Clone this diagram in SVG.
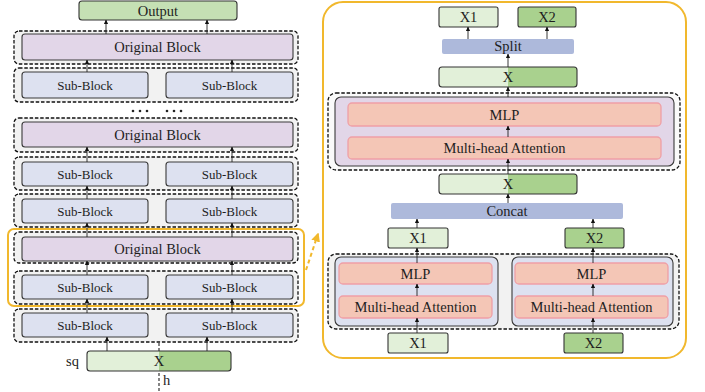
<svg xmlns="http://www.w3.org/2000/svg" width="705" height="392" viewBox="0 0 705 392">
  <defs>
    <linearGradient id="xsplit" x1="0" y1="0" x2="1" y2="0">
      <stop offset="0.5" stop-color="#e2f0d9"/>
      <stop offset="0.5" stop-color="#a9d18e"/>
    </linearGradient>
    <marker id="arr" viewBox="0 0 6 6" refX="5.5" refY="3" markerWidth="4.5" markerHeight="4.5" markerUnits="userSpaceOnUse" orient="auto">
      <path d="M0,0 L6,3 L0,6 z" fill="#111"/>
    </marker>
    <marker id="arrY" viewBox="0 0 6 6" refX="5" refY="3" markerWidth="9" markerHeight="9" markerUnits="userSpaceOnUse" orient="auto">
      <path d="M0,0 L6,3 L0,6 z" fill="#f1b82d"/>
    </marker>
  </defs>
  <style>
    text { font-family: "Liberation Serif", "Times New Roman", serif; fill: #1e1e1e; text-anchor: middle; }
    .t14 { font-size: 14.5px; }
    .t13 { font-size: 13px; }
    .grp { fill: #f2f2f2; stroke: #111; stroke-width: 1.3; stroke-dasharray: 3.5 1.8; }
    .orig { fill: #e2d6e8; stroke: #3a3a3a; stroke-width: 1.1; }
    .sub { fill: #dde1f0; stroke: #3a3a3a; stroke-width: 1.1; }
    .lg { fill: #e2f0d9; stroke: #333; stroke-width: 1.1; }
    .dg { fill: #a9d18e; stroke: #333; stroke-width: 1.1; }
    .out { fill: #c5e0b4; stroke: #333; stroke-width: 1.1; }
    .xs { fill: url(#xsplit); stroke: #333; stroke-width: 1.1; }
    .op { fill: #adb9db; }
    .pink { fill: #f4c6b6; stroke: #ef9fa6; stroke-width: 1.3; }
    .hl { fill: none; stroke: #f1b82d; stroke-width: 2; }
    .edge { stroke: #222; stroke-width: 0.9; fill: none; marker-end: url(#arr); }
  </style>

  <!-- ===== Left: stacked network ===== -->
  <g id="output">
    <rect class="out" x="79" y="1" width="158" height="19" rx="3"/>
    <text class="t14" x="158" y="15.5">Output</text>
  </g>

  <g id="orig-top">
    <rect class="grp" x="14" y="31" width="284" height="33" rx="5"/>
    <rect class="orig" x="22" y="34" width="271" height="26" rx="3"/>
    <text class="t14" x="157.5" y="52">Original Block</text>
  </g>
  <g id="sub-top">
    <rect class="grp" x="14" y="68" width="284" height="34" rx="5"/>
    <rect class="sub" x="22" y="72" width="126" height="26" rx="3"/>
    <text class="t13" x="85" y="89.5">Sub-Block</text>
    <rect class="sub" x="166" y="72" width="127" height="26" rx="3"/>
    <text class="t13" x="229.5" y="89.5">Sub-Block</text>
  </g>

  <g id="ellipsis" fill="#222">
    <circle cx="133" cy="111" r="1.3"/>
    <circle cx="140" cy="111" r="1.3"/>
    <circle cx="147" cy="111" r="1.3"/>
    <circle cx="167" cy="111" r="1.3"/>
    <circle cx="174" cy="111" r="1.3"/>
    <circle cx="181" cy="111" r="1.3"/>
  </g>

  <g id="orig-2">
    <rect class="grp" x="14" y="118" width="284" height="34" rx="5"/>
    <rect class="orig" x="22" y="122" width="271" height="25" rx="3"/>
    <text class="t14" x="157.5" y="139.5">Original Block</text>
  </g>
  <g id="sub-2">
    <rect class="grp" x="14" y="157" width="284" height="33" rx="5"/>
    <rect class="sub" x="22" y="162" width="126" height="24" rx="3"/>
    <text class="t13" x="85" y="178.5">Sub-Block</text>
    <rect class="sub" x="166" y="162" width="127" height="24" rx="3"/>
    <text class="t13" x="229.5" y="178.5">Sub-Block</text>
  </g>
  <g id="sub-3">
    <rect class="grp" x="14" y="194" width="284" height="33" rx="5"/>
    <rect class="sub" x="22" y="199" width="126" height="24" rx="3"/>
    <text class="t13" x="85" y="215.5">Sub-Block</text>
    <rect class="sub" x="166" y="199" width="127" height="24" rx="3"/>
    <text class="t13" x="229.5" y="215.5">Sub-Block</text>
  </g>

  <g id="highlight">
    <rect class="hl" x="8" y="229" width="296" height="77" rx="6"/>
  </g>
  <g id="orig-3">
    <rect class="grp" x="14" y="232" width="284" height="31" rx="5"/>
    <rect class="orig" x="22" y="237" width="271" height="24" rx="3"/>
    <text class="t14" x="157.5" y="254">Original Block</text>
  </g>
  <g id="sub-4">
    <rect class="grp" x="14" y="271" width="284" height="33" rx="5"/>
    <rect class="sub" x="22" y="275" width="126" height="24" rx="3"/>
    <text class="t13" x="85" y="291.5">Sub-Block</text>
    <rect class="sub" x="166" y="275" width="127" height="24" rx="3"/>
    <text class="t13" x="229.5" y="291.5">Sub-Block</text>
  </g>
  <g id="sub-5">
    <rect class="grp" x="14" y="309" width="284" height="33" rx="5"/>
    <rect class="sub" x="22" y="313" width="126" height="24" rx="3"/>
    <text class="t13" x="85" y="329.5">Sub-Block</text>
    <rect class="sub" x="166" y="313" width="127" height="24" rx="3"/>
    <text class="t13" x="229.5" y="329.5">Sub-Block</text>
  </g>

  <g id="input-x">
    <line x1="159" y1="343" x2="159" y2="392" stroke="#222" stroke-width="1.1" stroke-dasharray="3 2"/>
    <rect class="xs" x="87" y="351" width="144" height="20" rx="3"/>
    <text class="t14" x="159" y="366">X</text>
    <text class="t14" x="66" y="366" style="text-anchor:start">sq</text>
    <text class="t14" x="163" y="385" style="text-anchor:start">h</text>
  </g>

  <!-- ===== Right: expanded block ===== -->
  <g id="panel">
    <rect class="hl" x="323" y="2" width="363" height="356" rx="20"/>
  </g>

  <g id="x1-out">
    <rect class="lg" x="439" y="7" width="59" height="20" rx="2"/>
    <text class="t14" x="468.5" y="22">X1</text>
  </g>
  <g id="x2-out">
    <rect class="dg" x="518" y="7" width="58" height="20" rx="2"/>
    <text class="t14" x="547" y="22">X2</text>
  </g>
  <g id="split">
    <rect class="op" x="442" y="39" width="132" height="15" rx="2"/>
    <text class="t14" x="508" y="51">Split</text>
  </g>
  <g id="x-merged">
    <rect class="xs" x="439" y="67" width="138" height="20" rx="3"/>
    <text class="t14" x="508" y="82">X</text>
  </g>
  <g id="full-block">
    <rect class="grp" x="328" y="93" width="352" height="77" rx="8" style="fill:#fafafa"/>
    <rect class="orig" x="335" y="97" width="339" height="69" rx="6"/>
    <rect class="pink" x="348" y="103" width="313" height="23" rx="4"/>
    <text class="t14" x="504.5" y="119.5">MLP</text>
    <rect class="pink" x="348" y="137" width="313" height="22" rx="4"/>
    <text class="t14" x="504.5" y="153">Multi-head Attention</text>
  </g>
  <g id="x-concat">
    <rect class="xs" x="439" y="174" width="138" height="20" rx="3"/>
    <text class="t14" x="508" y="189">X</text>
  </g>
  <g id="concat">
    <rect class="op" x="391" y="203" width="232" height="16" rx="2"/>
    <text class="t14" x="507" y="216">Concat</text>
  </g>
  <g id="x1-mid">
    <rect class="lg" x="388" y="228" width="60" height="20" rx="2"/>
    <text class="t14" x="418" y="243">X1</text>
  </g>
  <g id="x2-mid">
    <rect class="dg" x="565" y="228" width="59" height="20" rx="2"/>
    <text class="t14" x="594.5" y="243">X2</text>
  </g>
  <g id="sub-pair">
    <rect class="grp" x="328" y="254" width="351" height="75" rx="8"/>
    <rect class="sub" x="335" y="257" width="163" height="69" rx="6"/>
    <rect class="pink" x="339" y="263" width="153" height="21" rx="4"/>
    <text class="t14" x="415.5" y="279">MLP</text>
    <rect class="pink" x="339" y="296" width="153" height="22" rx="4"/>
    <text class="t14" x="415.5" y="312">Multi-head Attention</text>
    <rect class="sub" x="512" y="257" width="161" height="69" rx="6"/>
    <rect class="pink" x="515" y="263" width="153" height="21" rx="4"/>
    <text class="t14" x="591.5" y="279">MLP</text>
    <rect class="pink" x="515" y="296" width="153" height="22" rx="4"/>
    <text class="t14" x="591.5" y="312">Multi-head Attention</text>
  </g>
  <g id="x1-in">
    <rect class="lg" x="388" y="333" width="60" height="20" rx="2"/>
    <text class="t14" x="418" y="348">X1</text>
  </g>
  <g id="x2-in">
    <rect class="dg" x="564" y="333" width="59" height="20" rx="2"/>
    <text class="t14" x="593.5" y="348">X2</text>
  </g>

  <!-- ===== Connectors ===== -->
  <g id="connectors">
    <path class="edge" d="M107,351 V337"/>
    <path class="edge" d="M207,351 V337"/>
    <path class="edge" d="M87,313 V299"/>
    <path class="edge" d="M232,313 V299"/>
    <path class="edge" d="M87,275 V261"/>
    <path class="edge" d="M232,275 V261"/>
    <path class="edge" d="M87,237 V223"/>
    <path class="edge" d="M232,237 V223"/>
    <path class="edge" d="M87,199 V186"/>
    <path class="edge" d="M232,199 V186"/>
    <path class="edge" d="M87,162 V147"/>
    <path class="edge" d="M232,162 V147"/>
    <path class="edge" d="M87,72 V60"/>
    <path class="edge" d="M232,72 V60"/>
    <path class="edge" d="M106,34 V20"/>
    <path class="edge" d="M207,34 V20"/>

    <path d="M306,270 L318,234" stroke="#f1b82d" stroke-width="2" stroke-dasharray="4 3" fill="none" marker-end="url(#arrY)"/>

    <path class="edge" d="M417,333 V318"/>
    <path class="edge" d="M593,333 V318"/>
    <path class="edge" d="M417,296 V284"/>
    <path class="edge" d="M593,296 V284"/>
    <path class="edge" d="M417,263 V248"/>
    <path class="edge" d="M593,263 V248"/>
    <path class="edge" d="M417,228 V219"/>
    <path class="edge" d="M593,228 V219"/>
    <path class="edge" d="M508,203 V194"/>
    <path class="edge" d="M508,174 V159"/>
    <path class="edge" d="M508,137 V126"/>
    <path class="edge" d="M508,97 V87"/>
    <path class="edge" d="M508,67 V54"/>
    <path class="edge" d="M468,39 V27"/>
    <path class="edge" d="M547,39 V27"/>
  </g>
</svg>
